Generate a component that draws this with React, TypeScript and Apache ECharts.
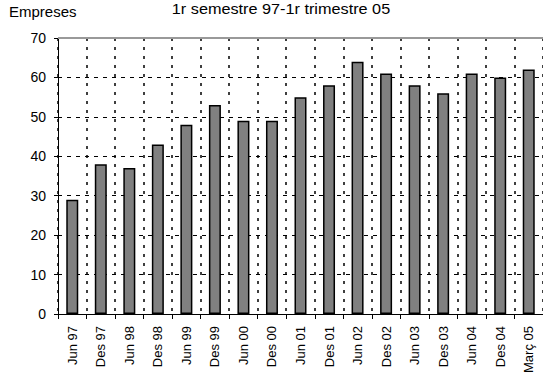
import React, { useEffect, useRef } from "react";
import * as echarts from "echarts";

const categories = ["Jun 97","Des 97","Jun 98","Des 98","Jun 99","Des 99","Jun 00","Des 00","Jun 01","Des 01","Jun 02","Des 02","Jun 03","Des 03","Jun 04","Des 04","Març 05"];
const values = [29, 38, 37, 43, 48, 53, 49, 49, 55, 58, 64, 61, 58, 56, 61, 60, 62];
const yTicks = [0, 10, 20, 30, 40, 50, 60, 70];
const title = "1r semestre 97-1r trimestre 05";
const yName = "Empreses";

export default function App() {
  const ref = useRef<HTMLDivElement>(null);
  useEffect(() => {
    const chart = echarts.init(ref.current!, null, { renderer: "svg" });
    const font = "Arial";
    chart.setOption({
      animation: false,
      textStyle: { fontFamily: font },
      title: [
        {
          text: yName,
          left: 9,
          top: 4,
          padding: 0,
          textStyle: { fontSize: 15, fontWeight: "normal", color: "#000", fontFamily: font },
        },
      ],
      graphic: [
        {
          type: "text",
          x: 281,
          y: 2,
          scaleX: 1.16,
          style: { text: title, font: "14px Arial", fill: "#000", align: "center", verticalAlign: "top" },
        },
      ],
      grid: { left: 58, right: -3, top: 38, bottom: 67, containLabel: false },
      xAxis: {
        type: "category",
        data: categories,
        boundaryGap: true,
        axisLine: { lineStyle: { color: "#000", width: 1 } },
        axisTick: { show: true, length: 5, lineStyle: { color: "#000" } },
        axisLabel: { rotate: 90, fontSize: 13, color: "#000", margin: 12, interval: 0, fontFamily: font },
        splitLine: { show: true, lineStyle: { color: "#000", type: [3, 6], width: 1.5 } },
      },
      yAxis: {
        type: "value",
        min: yTicks[0],
        max: yTicks[yTicks.length - 1],
        interval: 10,
        axisLine: { show: true, lineStyle: { color: "#000", width: 1 } },
        axisTick: { show: true, length: 4, lineStyle: { color: "#000" } },
        axisLabel: { fontSize: 14, color: "#000", margin: 12, fontFamily: font },
        splitLine: { show: true, lineStyle: { color: "#000", type: [4, 5], width: 1.2 } },
      },
      series: [
        {
          type: "bar",
          data: values,
          barWidth: 12,
          itemStyle: { color: "#808080", borderColor: "#000", borderWidth: 1.5 },
          markLine: {
            silent: true,
            symbol: "none",
            label: { show: false },
            lineStyle: { color: "#999", type: "solid", width: 2 },
            data: [{ yAxis: 70 }],
          },
        },
      ],
    });
    return () => chart.dispose();
  }, []);
  return <div ref={ref} style={{ width: 543, height: 381, position: "absolute", left: 0, top: 0 }} />;
}
